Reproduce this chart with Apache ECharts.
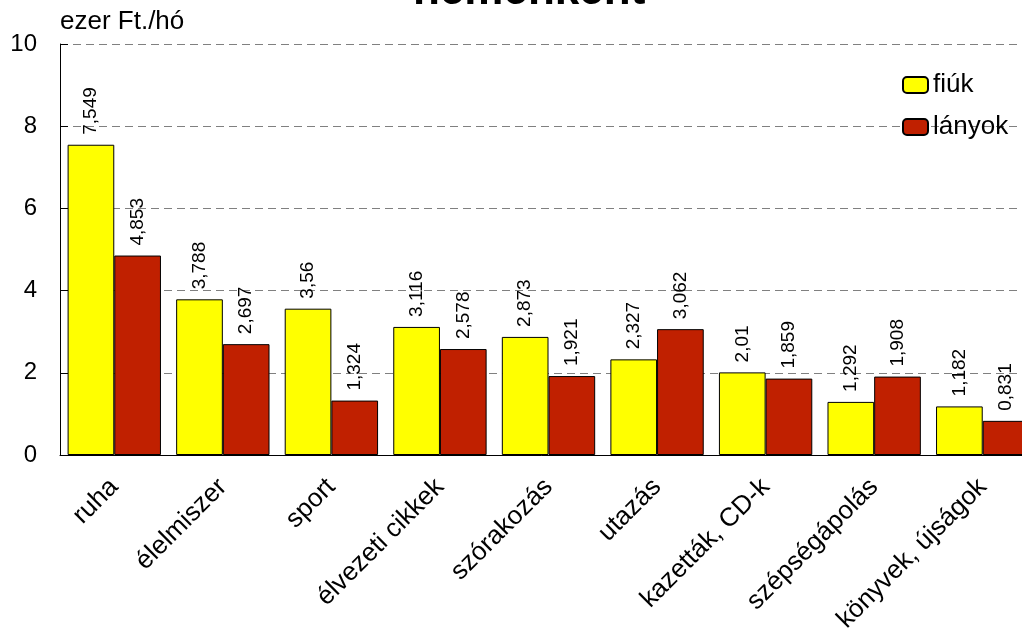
<!DOCTYPE html>
<html>
<head>
<meta charset="utf-8">
<script src="https://cdn.jsdelivr.net/npm/echarts@6/dist/echarts.min.js"></script>
<style>
html,body{margin:0;padding:0;background:#fff;}
#chart{width:1022px;height:628px;}
</style>
</head>
<body>
<div id="chart"></div>
<script>
const categories = ['ruha','élelmiszer','sport','élvezeti cikkek','szórakozás','utazás','kazetták, CD-k','szépségápolás','könyvek, újságok'];
const fiuk = [7.549, 3.788, 3.56, 3.116, 2.873, 2.327, 2.01, 1.292, 1.182];
const lanyok = [4.853, 2.697, 1.324, 2.578, 1.921, 3.062, 1.859, 1.908, 0.831];
const seriesNames = ['fiúk', 'lányok'];
const titleText = 'nemenként';
const unitText = 'ezer Ft./hó';

const FONT = 'Liberation Sans, Arial, sans-serif';
const chart = echarts.init(document.getElementById('chart'), null, {renderer: 'canvas'});

function fmt(v){ return String(v).replace('.', ','); }

const labelCfg = {
  show: true,
  position: 'top',
  rotate: 90,
  align: 'left',
  verticalAlign: 'middle',
  distance: 10,
  color: '#000',
  fontFamily: FONT,
  fontSize: 19,
  formatter: p => fmt(p.value)
};

chart.setOption({
  animation: false,
  backgroundColor: '#fff',
  title: {
    text: titleText,
    left: 413,
    top: -30,
    padding: 0,
    textStyle: {fontFamily: FONT, fontSize: 44, fontWeight: 'bold', color: '#000'}
  },
  legend: {
    orient: 'vertical',
    left: 902,
    top: 72,
    padding: 0,
    itemWidth: 25,
    itemHeight: 16,
    itemGap: 16,
    textStyle: {fontFamily: FONT, fontSize: 26, color: '#000'},
    data: seriesNames
  },
  grid: {
    left: 60, right: -15, top: 44, bottom: 173,
    containLabel: false,
    outerBoundsMode: 'none'
  },
  xAxis: {
    type: 'category',
    data: categories,
    axisLine: {show: true, lineStyle: {color: '#000', width: 1}},
    axisTick: {show: false},
    axisLabel: {
      rotate: 45, margin: 28, interval: 0,
      fontFamily: FONT, fontSize: 26, color: '#000'
    }
  },
  yAxis: {
    type: 'value',
    min: 0, max: 10, interval: 2,
    name: unitText,
    nameLocation: 'end',
    nameGap: 22,
    nameTextStyle: {fontFamily: FONT, fontSize: 26, color: '#000', align: 'left', verticalAlign: 'middle'},
    axisLine: {show: true, lineStyle: {color: '#000', width: 1}},
    axisTick: {show: true, inside: true, length: 8, lineStyle: {color: '#000'}},
    axisLabel: {margin: 23, fontFamily: FONT, fontSize: 24, color: '#000'},
    splitLine: {show: true, lineStyle: {color: '#808080', type: [8, 5], width: 1}}
  },
  series: [
    {
      name: seriesNames[0], type: 'bar', data: fiuk,
      barGap: '0%', barCategoryGap: '14%',
      itemStyle: {color: '#FFFF00', borderColor: '#000', borderWidth: 1},
      label: labelCfg
    },
    {
      name: seriesNames[1], type: 'bar', data: lanyok,
      barGap: '0%', barCategoryGap: '14%',
      itemStyle: {color: '#C02000', borderColor: '#000', borderWidth: 1},
      label: labelCfg
    }
  ]
});
</script>
</body>
</html>
